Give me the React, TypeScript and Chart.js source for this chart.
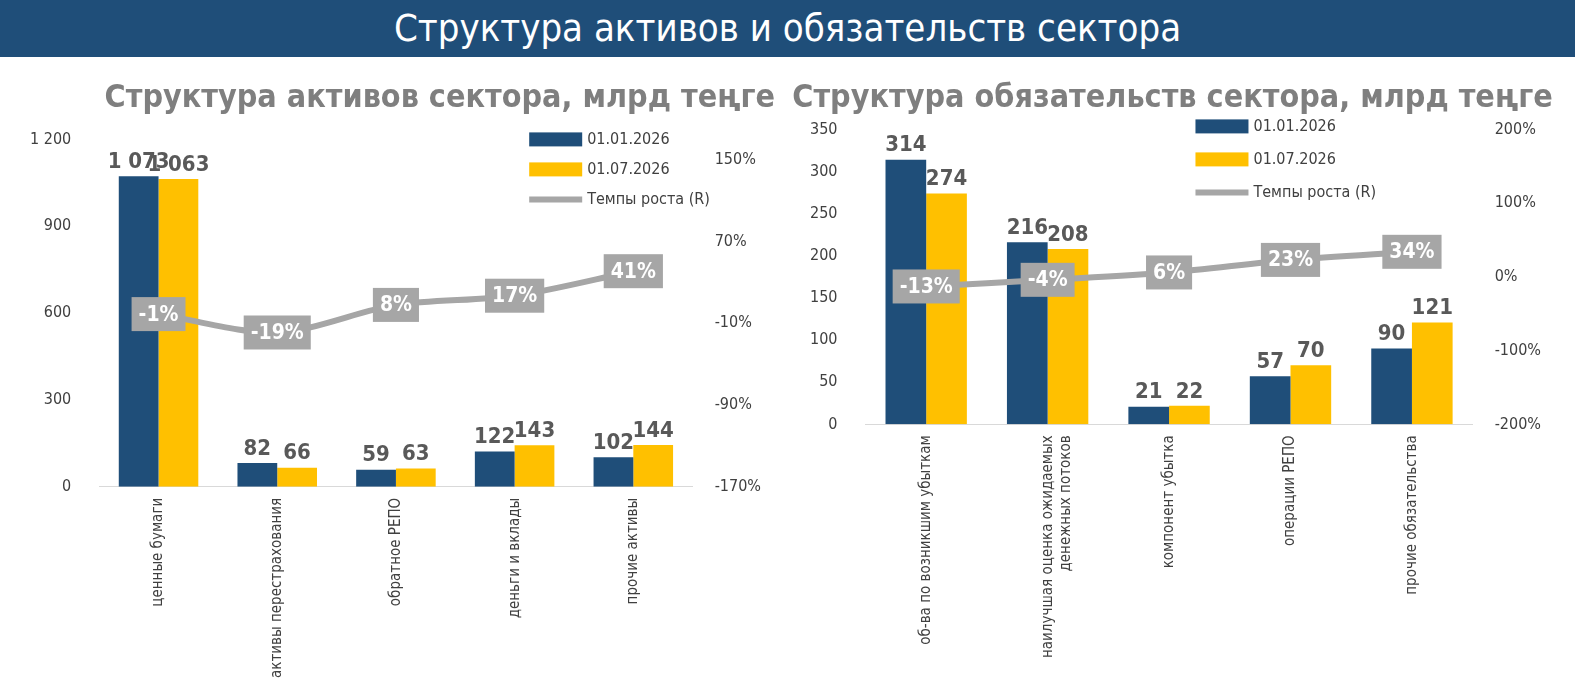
import React, { useEffect, useRef } from "react";
import { Chart, registerables } from "chart.js";
Chart.register(...registerables);

const FONT = "'Liberation Sans Narrow', 'DejaVu Sans Condensed', sans-serif";
const BLUE = "#1F4E79";
const YELLOW = "#FFC000";
const GREY = "#A6A6A6";

const assetCats = ["ценные бумаги", "активы перестрахования", "обратное РЕПО", "деньги и вклады", "прочие активы"];
const assetJan = [1073, 82, 59, 122, 102];
const assetJul = [1063, 66, 63, 143, 144];
const assetGrowth = [-1, -19, 8, 17, 41];
const assetLeftTicks = [0, 300, 600, 900, 1200];
const assetRightTicks = [-170, -90, -10, 70, 150];

const liabCats = [["об-ва по возникшим убыткам"], ["наилучшая оценка ожидаемых", "денежных потоков"], ["компонент убытка"], ["операции РЕПО"], ["прочие обязательства"]];
const liabJan = [314, 216, 21, 57, 90];
const liabJul = [274, 208, 22, 70, 121];
const liabGrowth = [-13, -4, 6, 23, 34];
const liabRightTicks = [-200, -100, 0, 100, 200];

const legendLabels = ["01.01.2026", "01.07.2026", "Темпы роста (R)"];

const fmt = (v: number) => String(v).replace(/\B(?=(\d{3})+(?!\d))/g, " ");

function makeLabelPlugin(legendX: number, legendY: number, legendGap: number) {
  return {
    id: "labels",
    afterDatasetsDraw(chart: any) {
      const ctx = chart.ctx;
      ctx.save();
      [0, 1].forEach((di) => {
        const meta = chart.getDatasetMeta(di);
        meta.data.forEach((el: any, i: number) => {
          ctx.font = `bold 22px ${FONT}`;
          ctx.fillStyle = "#595959";
          ctx.textAlign = "center";
          ctx.textBaseline = "bottom";
          ctx.fillText(fmt(chart.data.datasets[di].data[i]), el.x, el.y - 3);
        });
      });
      const lm = chart.getDatasetMeta(2);
      lm.data.forEach((el: any, i: number) => {
        const t = chart.data.datasets[2].data[i] + "%";
        ctx.font = `bold 21px ${FONT}`;
        const w = ctx.measureText(t).width + 14;
        ctx.fillStyle = GREY;
        ctx.fillRect(el.x - w / 2, el.y - 17, w, 34);
        ctx.fillStyle = "#fff";
        ctx.textAlign = "center";
        ctx.textBaseline = "middle";
        ctx.fillText(t, el.x, el.y + 1);
      });
      // legend
      const x = chart.chartArea.left + legendX;
      legendLabels.forEach((l, i) => {
        const y = chart.chartArea.top + legendY + i * legendGap;
        if (i < 2) {
          ctx.fillStyle = i === 0 ? BLUE : YELLOW;
          ctx.fillRect(x, y - 7, 53, 14);
        } else {
          ctx.strokeStyle = GREY;
          ctx.lineWidth = 6;
          ctx.beginPath();
          ctx.moveTo(x, y);
          ctx.lineTo(x + 53, y);
          ctx.stroke();
        }
        ctx.fillStyle = "#404040";
        ctx.font = `16px ${FONT}`;
        ctx.textAlign = "left";
        ctx.textBaseline = "middle";
        ctx.fillText(l, x + 58, y);
      });
      ctx.restore();
    },
  };
}

function ChartBox(props: any) {
  const ref = useRef<HTMLCanvasElement>(null);
  useEffect(() => {
    const p = props;
    const chart = new Chart(ref.current as any, {
      data: {
        labels: p.cats,
        datasets: [
          { type: "bar", data: p.jan, backgroundColor: BLUE, yAxisID: "y", categoryPercentage: 0.67, barPercentage: 1, order: 2 },
          { type: "bar", data: p.jul, backgroundColor: YELLOW, yAxisID: "y", categoryPercentage: 0.67, barPercentage: 1, order: 2 },
          { type: "line", data: p.growth, borderColor: GREY, borderWidth: 6, pointRadius: 0, yAxisID: "y1", tension: 0.3, order: 1 },
        ] as any,
      },
      options: {
        animation: false,
        responsive: false,
        layout: { padding: p.padding },
        plugins: {
          legend: { display: false },
          tooltip: { enabled: false },
          title: { display: true, text: p.title, color: "#7F7F7F", font: { family: FONT, size: 32 }, align: p.titleAlign, padding: { top: 22, bottom: p.titleBottom } },
        },
        scales: {
          x: {
            grid: { display: false },
            border: { color: "#D9D9D9" },
            ticks: { color: "#404040", font: { family: FONT, size: 15 }, minRotation: 90, maxRotation: 90, autoSkip: false },
          },
          y: {
            min: p.lmin, max: p.lmax,
            grid: { display: false }, border: { display: false },
            afterBuildTicks: (ax: any) => { ax.ticks = p.lticks.map((v: number) => ({ value: v })); },
            ticks: { color: "#404040", font: { family: FONT, size: 16 }, padding: 20, callback: (v: any) => fmt(v) },
          },
          y1: {
            position: "right", min: p.rmin, max: p.rmax,
            grid: { display: false }, border: { display: false },
            afterBuildTicks: (ax: any) => { ax.ticks = p.rticks.map((v: number) => ({ value: v })); },
            ticks: { color: "#404040", font: { family: FONT, size: 16 }, padding: 14, callback: (v: any) => v + "%" },
          },
        },
      } as any,
      plugins: [makeLabelPlugin(p.legendX, p.legendY, p.legendGap)],
    });
    return () => chart.destroy();
  }, []);
  return <canvas ref={ref} width={p_w(props)} height={624} style={{ position: "absolute", left: props.left, top: 57 }} />;
}
const p_w = (p: any) => p.width;

export default function App() {
  return (
    <div style={{ position: "fixed", left: 0, top: 0, width: 1575, height: 681, background: "#fff", overflow: "hidden" }}>
      <div style={{ position: "absolute", left: 0, top: 0, width: 1575, height: 57, background: "#1F4E79", color: "#fff", fontFamily: FONT, fontSize: 38, lineHeight: "57px", textAlign: "center" }}>
        Структура активов и обязательств сектора
      </div>
      <ChartBox left={0} width={785} cats={assetCats} jan={assetJan} jul={assetJul} growth={assetGrowth}
        title="Структура активов сектора, млрд теңге" titleAlign="end" titleBottom={22}
        lmin={0} lmax={1200} lticks={assetLeftTicks} rmin={-170} rmax={170} rticks={assetRightTicks}
        padding={{ left: 10, right: 10, bottom: 0 }} legendX={430} legendY={0} legendGap={30} />
      <ChartBox left={790} width={785} cats={liabCats} jan={liabJan} jul={liabJul} growth={liabGrowth}
        title="Структура обязательств сектора, млрд теңге" titleAlign="center" titleBottom={12}
        lmin={0} lmax={350} lticks={[0, 50, 100, 150, 200, 250, 300, 350]} rmin={-200} rmax={200} rticks={liabRightTicks}
        padding={{ left: 0, right: 20, bottom: 20 }} legendX={330} legendY={-3} legendGap={33} />
    </div>
  );
}
